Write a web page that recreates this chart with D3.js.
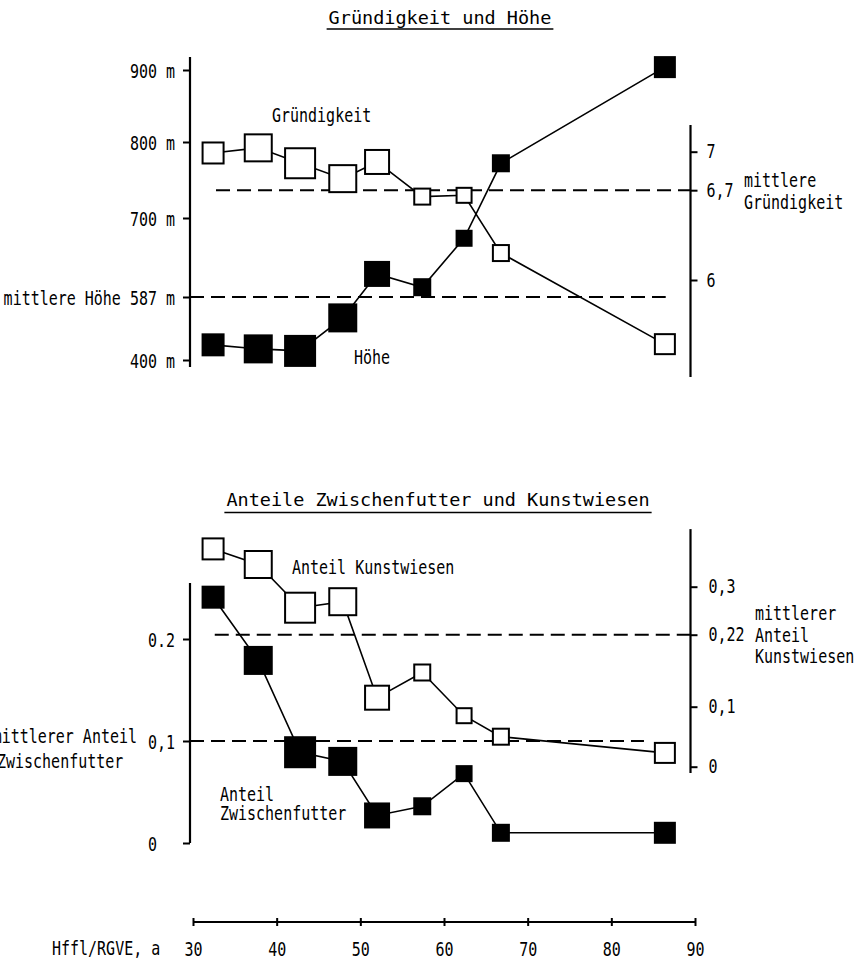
<!DOCTYPE html>
<html><head><meta charset="utf-8">
<script src="https://cdn.jsdelivr.net/npm/d3@7"></script>
<style>body{margin:0;background:#fff}</style>
</head><body>
<script>
// ---- data ----
const hffl = [32.4, 37.8, 42.8, 47.9, 52.0, 57.4, 62.4, 66.8, 86.4];
const gewicht = [21, 27, 30, 27, 24, 16, 15, 16, 20];
const hoehe = [445, 433, 427, 525, 620, 601, 671, 772, 904];
const gruendigkeit = [6.99, 7.03, 6.91, 6.79, 6.92, 6.65, 6.66, 6.21, 5.50];
const zwischenfutter = [0.241, 0.179, 0.089, 0.080, 0.027, 0.036, 0.068, 0.010, 0.010];
const kunstwiesen = [0.363, 0.337, 0.265, 0.275, 0.115, 0.157, 0.085, 0.050, 0.023];
const mittlereHoehe = 587;
const mittlereGruendigkeit = 6.7;
const mittlererZwischenfutter = 0.1;
const mittlererKunstwiesen = 0.22;
const xTicks = [30, 40, 50, 60, 70, 80, 90];
const hoeheTicks = [400, 587, 700, 800, 900];
const hoeheTickLabels = ["400 m", "mittlere Höhe 587 m", "700 m", "800 m", "900 m"];
const gruendTicks = [6, 6.7, 7];
const gruendTickLabels = ["6", "6,7", "7"];
const zfTicks = [0, 0.1, 0.2];
const zfTickLabels = ["0", "0,1", "0.2"];
const kwTicks = [0, 0.1, 0.22, 0.3];
const kwTickLabels = ["0", "0,1", "0,22", "0,3"];

// ---- layout ----
const W = 864, H = 960;
const leftX = 190, rightX = 690.5, xAxisY = 922;
const SX = 0.75; // horizontal condensation of label font
const labelFont = "'DejaVu Sans Mono','Liberation Mono',monospace";

const svg = d3.select("body").append("svg").attr("width", W).attr("height", H)
  .style("background", "#fff");

const x = d3.scaleLinear([30, 90], [193, 695]);
const yH = d3.scaleLinear([400, 587, 700, 800, 900], [360, 297, 218, 142, 70]);
const yG = d3.scaleLinear([6, 7], [280, 151.7]);
const yZ = d3.scaleLinear([0, 0.2], [843, 639]);
const yK = d3.scaleLinear([0, 0.3], [766.7, 586.7]);
const size = d3.scaleLinear([0, 30], [0, 30]);

function label(txt, px, py, anchor = "start") {
  return svg.append("text")
    .attr("transform", `translate(${px},${py}) scale(${SX},1)`)
    .attr("text-anchor", anchor)
    .attr("font-family", labelFont).attr("font-size", 20).attr("fill", "#000")
    .text(txt);
}

function title(txt, cx, by, uy) {
  const t = svg.append("text").attr("x", cx).attr("y", by).attr("text-anchor", "middle")
    .attr("font-family", labelFont).attr("font-size", 18.5).attr("fill", "#000").text(txt);
  const w = t.node().getComputedTextLength();
  svg.append("line").attr("x1", cx - w / 2 - 2).attr("x2", cx + w / 2 + 2)
    .attr("y1", uy).attr("y2", uy).attr("stroke", "#000").attr("stroke-width", 1.6);
}

function yAxis(scale, side, ticks, labels, ext, pad, anchor, dy) {
  const ax = (side === "left" ? d3.axisLeft(scale) : d3.axisRight(scale))
    .tickValues(ticks).tickFormat((d, i) => labels[i]).tickSize(7);
  const g = svg.append("g").attr("transform", `translate(${side === "left" ? leftX : rightX},0)`).call(ax);
  g.select(".domain").remove();
  g.selectAll(".tick line").attr("stroke", "#000").attr("stroke-width", 2);
  g.selectAll(".tick text")
    .attr("font-family", labelFont).attr("font-size", 20).attr("fill", "#000")
    .attr("text-anchor", anchor)
    .attr("x", (side === "left" ? -pad : pad) / SX)
    .attr("dy", dy)
    .attr("transform", `scale(${SX},1)`);
  g.append("line").attr("x1", 0).attr("x2", 0)
    .attr("y1", scale(ext[0])).attr("y2", scale(ext[1]))
    .attr("stroke", "#000").attr("stroke-width", 2.2);
  return g;
}

function dashed(scale, v, x0, x1) {
  svg.append("line").attr("x1", x0).attr("x2", x1)
    .attr("y1", scale(v)).attr("y2", scale(v))
    .attr("stroke", "#000").attr("stroke-width", 2).attr("stroke-dasharray", "14,7");
}

function series(scale, vals, filled) {
  const line = d3.line().x((d, i) => x(hffl[i])).y(d => scale(d));
  svg.append("path").datum(vals).attr("d", line)
    .attr("fill", "none").attr("stroke", "#000").attr("stroke-width", 1.6);
  svg.append("g").selectAll("rect").data(vals).join("rect")
    .attr("x", (d, i) => x(hffl[i]) - size(gewicht[i]) / 2)
    .attr("y", (d, i) => scale(d) - size(gewicht[i]) / 2)
    .attr("width", (d, i) => size(gewicht[i]))
    .attr("height", (d, i) => size(gewicht[i]))
    .attr("fill", filled ? "#000" : "#fff")
    .attr("stroke", "#000").attr("stroke-width", 2);
}

// ---- top chart ----
title("Gründigkeit und Höhe", 440, 23.5, 29);
dashed(yG, mittlereGruendigkeit, x(32.75), rightX);
dashed(yH, mittlereHoehe, leftX, x(86.5));
series(yG, gruendigkeit, false);
series(yH, hoehe, true);
yAxis(yH, "left", hoeheTicks, hoeheTickLabels, [379, 918], 15, "end", "0.38em");
yAxis(yG, "right", gruendTicks, gruendTickLabels, [5.244, 7.208], 16, "start", "0.3em");
label("Gründigkeit", 272, 122);
label("Höhe", 354, 363.5);
label("mittlere", 744, 187);
label("Gründigkeit", 744, 208.5);

// ---- bottom chart ----
title("Anteile Zwischenfutter und Kunstwiesen", 438, 505.5, 512.5);
dashed(yK, mittlererKunstwiesen, x(32.6), rightX);
dashed(yZ, mittlererZwischenfutter, leftX, x(83.9));
series(yK, kunstwiesen, false);
series(yZ, zwischenfutter, true);
yAxis(yZ, "left", zfTicks, zfTickLabels, [0, 0.255], 42, "start", "0.35em");
yAxis(yK, "right", kwTicks, kwTickLabels, [-0.0105, 0.396], 18, "start", "0.3em");
label("Anteil Kunstwiesen", 292, 573.5);
label("mittlerer", 755, 620);
label("Anteil", 755, 641.5);
label("Kunstwiesen", 755, 663);
label("mittlerer Anteil", 137, 743, "end");
label("Zwischenfutter", -3, 768);
label("Anteil", 220, 801);
label("Zwischenfutter", 220, 820);

// ---- x axis ----
const xa = svg.append("g").attr("transform", `translate(0,${xAxisY})`)
  .call(d3.axisBottom(x).tickValues(xTicks).tickSize(4).tickFormat(d3.format("d")));
xa.select(".domain").attr("stroke", "#000").attr("stroke-width", 2).attr("d", `M${x(30)},0H${x(90)}`);
xa.selectAll(".tick line").attr("stroke", "#000").attr("stroke-width", 2).attr("y1", -4).attr("y2", 4);
xa.selectAll(".tick text")
  .attr("font-family", labelFont).attr("font-size", 20).attr("fill", "#000")
  .attr("x", 0).attr("y", 19.5).attr("dy", "0.71em")
  .attr("transform", `scale(${SX},1)`);
label("Hffl/RGVE, a", 52, 955);
</script>
</body></html>
